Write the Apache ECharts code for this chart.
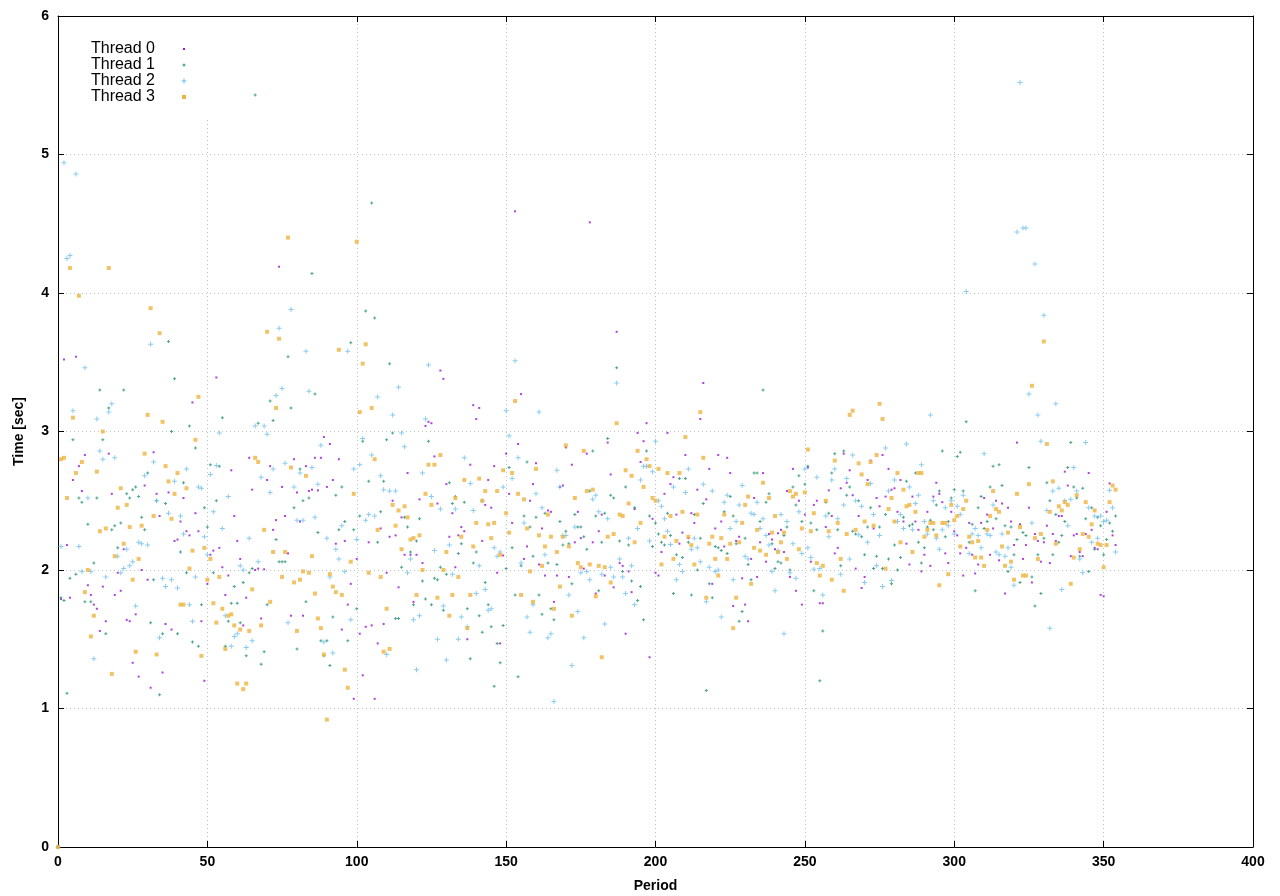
<!DOCTYPE html>
<html>
<head>
<meta charset="utf-8">
<script src="https://cdn.jsdelivr.net/npm/echarts@6/dist/echarts.min.js"></script>
<style>
html,body{margin:0;padding:0;background:#fff;}
#chart{width:1280px;height:896px;}
</style>
</head>
<body>
<div id="chart"></div>
<script>
const seriesNames = ['Thread 0', 'Thread 1', 'Thread 2', 'Thread 3'];
const xTicks = [0, 50, 100, 150, 200, 250, 300, 350, 400];
const yTicks = [0, 1, 2, 3, 4, 5, 6];

const thread0 = [0,1.79,3.52,2.18,1.80,2.65,3.54,2.75,2.57,2.83,
1.89,1.82,1.75,1.72,1.56,1.88,1.63,2.84,2.55,1.82,
1.98,1.85,2.15,1.64,1.63,1.33,1.68,1.23,2.00,2.61,
1.93,1.15,2.85,2.55,2.39,1.26,1.61,2.56,1.57,2.21,
2.22,2.35,2.52,2.28,2.25,3.21,2.41,2.28,1.63,1.20,
1.90,2.11,2.14,3.39,2.16,2.02,1.82,1.96,2.72,2.39,
2.21,2.08,1.60,1.80,2.81,2.58,2.00,2.01,1.65,2.005,
2.65,2.75,2.29,2.36,4.19,2.60,2.39,2.12,1.67,2.80,
2.56,2.35,1.67,2.75,2.57,2.58,2.81,2.575,2.81,2.96,
2.60,2.91,2.65,2.19,2.80,1.57,2.21,1.75,1.90,1.07,
2.08,1.54,1.24,1.59,2.20,1.60,1.07,1.47,2.30,1.61,
1.98,2.24,2.50,2.25,1.875,2.38,2.11,2.70,2.11,1.77,
2.11,2.51,2.05,3.04,3.07,3.06,2.82,2.48,3.44,3.38,
2.62,2.24,2.41,2.02,2.25,2.31,2.28,1.50,2.76,3.19,
3.09,3.17,2.21,2.47,2.65,2.45,2.75,1.98,1.47,2.105,
2.84,2.55,2.34,4.59,2.91,3.27,2.08,2.17,2.50,2.62,
2.77,2.04,2.30,1.96,2.43,2.42,1.77,1.96,2.60,2.61,
2.885,1.95,2.76,2.20,2.42,2.23,2.01,2.84,4.51,2.20,
1.83,2.28,2.40,1.96,2.92,2.69,1.875,3.72,2.05,2.03,
1.54,1.99,1.84,2.44,2.99,2.78,2.93,3.06,1.37,2.37,
1.98,1.96,2.13,2.55,2.99,2.62,2.67,2.40,2.19,2.27,
2.83,2.23,2.41,2.34,2.58,3.09,3.35,2.51,2.73,1.90,
2.30,2.83,2.35,2.17,2.81,2.70,1.74,2.21,2.24,1.94,
1.75,1.63,2.08,2.52,1.95,2.20,2.70,2.06,2.26,2.22,
2.15,2.265,2.29,2.13,2.57,1.95,2.73,1.85,2.50,1.75,
2.40,2.74,2.06,2.47,2.50,1.76,1.76,2.31,2.575,2.39,
2.12,2.16,2.59,2.84,2.63,2.72,2.54,2.01,2.39,1.87,
1.95,2.65,2.79,2.30,2.52,2.46,2.83,2.53,2.73,2.58,
2.59,2.42,2.65,2.35,2.19,2.04,2.53,2.35,2.29,1.99,
2.11,2.42,2.03,2.53,2.63,2.55,2.49,2.12,2.05,2.42,
2.28,2.25,2.12,1.96,2.16,2.34,2.11,1.975,2.04,2.34,
2.52,2.40,2.11,2.30,2.50,2.07,2.48,1.83,2.45,2.35,
2.18,2.92,2.33,2.08,2.18,2.45,1.91,2.26,2.21,2.06,
2.20,2.32,2.05,2.26,2.21,2.39,2.39,2.71,2.61,2.10,
2.25,2.26,2.13,2.10,2.26,2.70,2.29,2.16,2.15,1.82,
1.81,2.42,2.625,2.25,2.18];

const thread1 = [0,1.80,1.78,1.11,1.94,2.94,1.97,2.52,2.49,1.77,
2.33,1.77,2.05,2.52,3.30,2.94,1.54,3.17,2.29,2.32,
2.16,2.34,3.30,2.55,2.52,2.58,2.60,2.53,2.38,2.29,
2.70,1.62,1.93,2.50,1.10,1.54,2.48,3.65,3.00,3.38,
1.54,2.13,2.63,1.98,3.04,1.48,2.88,1.45,1.75,2.45,
2.31,2.76,1.98,2.50,2.75,3.10,1.45,1.63,1.76,1.88,
1.76,1.62,1.91,1.38,1.98,2.01,5.43,3.06,1.32,1.41,
1.75,3.22,3.08,2.22,2.06,2.06,2.06,3.54,3.17,2.45,
1.43,2.73,2.50,1.77,2.52,4.14,3.27,2.27,1.49,1.38,
1.49,1.31,1.66,2.54,2.29,2.60,2.35,1.49,3.64,2.29,
1.72,2.39,2.93,3.87,2.64,4.65,3.82,2.20,2.42,2.64,
2.94,3.49,2.99,1.65,1.65,2.02,2.38,2.31,2.13,1.75,
2.21,2.37,1.92,1.79,2.93,1.75,1.94,1.93,2.02,1.71,
1.97,2.63,2.48,2.53,2.12,2.19,2.49,1.72,1.36,2.05,
2.13,1.67,1.55,1.91,1.75,1.59,1.16,1.47,1.33,1.60,
2.01,2.74,2.16,1.82,1.23,2.03,2.39,2.78,2.31,2.10,
2.38,1.82,1.68,2.41,2.05,1.72,1.64,2.04,2.35,2.18,
2.28,2.19,1.90,2.40,2.31,2.31,2.24,2.15,2.57,2.86,
2.39,1.85,2.20,2.41,2.95,2.54,2.52,3.46,2.21,1.99,
2.60,2.18,1.92,2.45,1.78,1.88,1.64,2.86,2.39,2.17,
2.34,2.26,2.20,2.18,2.41,2.25,1.83,2.11,2.66,2.09,
2.66,2.20,1.82,2.40,2.00,2.23,2.48,1.13,1.90,1.80,
2.17,2.16,2.14,2.42,2.12,2.53,2.39,2.19,1.63,1.70,
2.23,2.04,1.93,2.70,2.70,2.35,3.30,2.49,2.55,2.19,
2.01,2.06,2.05,2.25,2.31,2.00,2.60,2.47,2.68,2.35,
2.62,2.75,2.34,1.85,2.29,1.20,1.56,2.49,2.41,2.70,
2.84,2.29,2.03,2.86,2.54,2.60,2.28,2.26,2.50,2.24,
2.11,2.31,2.45,2.01,2.10,2.31,2.01,2.40,2.08,1.90,
2.18,2.00,2.09,2.38,2.64,2.32,2.33,2.70,2.20,2.05,
2.16,2.31,2.36,2.29,2.47,2.57,2.86,2.24,2.35,2.52,
2.58,2.82,2.85,2.57,3.07,2.20,2.33,1.85,2.45,2.53,
2.30,2.35,2.60,2.75,2.37,2.76,2.61,2.32,1.99,2.31,
2.11,2.22,1.91,2.27,2.25,2.74,1.95,1.74,2.11,1.83,
2.23,2.63,2.50,2.11,2.40,2.20,2.25,2.35,2.74,2.92,
2.60,2.52,2.10,2.59,2.37,1.99,2.45,2.15,2.38,2.32,
2.11,2.22,2.34,2.28,2.39];

const thread2 = [0,2.17,4.94,4.25,4.27,3.15,4.86,2.17,1.99,3.46,
2.52,1.99,1.36,3.09,2.86,2.80,1.95,3.14,3.20,2.81,
2.10,1.98,2.01,2.15,2.03,2.06,1.74,2.20,2.19,2.68,
2.18,3.63,2.78,2.50,1.51,1.94,1.88,2.41,1.93,2.64,
1.87,2.39,2.26,2.73,1.75,1.63,1.95,2.60,2.59,2.24,
2.11,2.69,2.42,2.755,2.99,2.30,1.67,2.53,1.45,1.52,
1.54,2.03,2.00,1.44,2.23,1.49,3.04,2.06,2.67,3.04,
2.98,2.56,2.73,3.26,3.745,3.31,2.77,1.62,3.88,2.60,
2.36,2.70,2.36,3.58,3.29,2.74,2.38,2.62,2.90,1.48,
2.23,1.95,1.40,2.15,2.08,2.32,1.99,3.58,1.64,2.73,
2.22,2.76,2.95,2.36,2.40,2.83,2.39,3.25,2.68,2.58,
1.39,2.57,3.12,2.57,3.32,2.99,2.89,1.98,2.08,1.64,
1.28,1.67,2.70,3.09,3.48,2.53,2.14,1.50,2.44,1.74,
1.35,2.18,1.97,2.44,1.50,1.66,2.81,1.59,2.625,2.43,
1.83,2.03,2.50,1.86,1.71,1.72,2.16,2.10,2.13,2.60,
3.15,2.97,2.66,3.51,2.81,2.05,2.34,1.66,1.55,1.75,
2.55,3.14,2.45,2.11,1.51,1.54,1.05,2.72,2.60,2.25,
2.25,1.82,1.31,2.31,1.70,1.98,1.51,1.99,1.93,2.51,
2.54,2.42,1.97,1.61,2.37,2.02,1.95,3.35,2.08,1.95,
1.83,2.23,2.03,1.75,2.30,2.65,2.75,2.75,2.21,2.71,
2.93,2.50,2.46,2.37,2.28,2.185,2.60,1.93,2.04,1.99,
2.56,2.73,2.15,2.23,2.16,2.06,2.62,1.77,2.02,2.57,
1.99,2.00,1.66,2.49,2.54,2.30,1.93,2.35,2.47,2.61,
2.10,2.08,2.41,2.40,2.49,2.30,2.37,2.25,2.18,1.99,
1.85,2.14,2.40,1.54,2.35,1.98,2.19,1.94,2.42,2.12,
2.73,2.16,2.09,2.005,2.67,2.01,1.82,2.39,2.24,2.65,
2.73,2.37,1.97,2.47,2.66,2.08,2.83,2.50,2.255,2.46,
1.91,2.20,2.625,2.40,2.03,2.25,1.88,2.88,2.57,1.925,
2.65,2.35,2.40,2.30,2.91,2.60,2.29,2.48,2.54,2.76,
2.35,2.26,3.12,2.50,2.23,2.15,2.29,2.45,2.32,2.50,
2.26,2.46,2.40,2.54,4.01,2.12,2.26,2.30,2.25,2.16,
2.84,2.26,2.25,2.47,2.13,2.11,2.26,2.10,2.16,2.02,
1.89,4.44,5.52,4.47,4.47,3.27,2.34,4.21,3.12,2.93,
3.84,2.43,1.58,2.57,3.20,2.59,1.86,2.50,2.32,2.51,
2.74,2.57,2.08,1.98,2.92,2.45,2.20,2.39,2.23,2.39,
2.35,2.36,2.575,2.45,2.13];

const thread3 = [0,2.80,2.81,2.52,4.18,3.10,2.70,3.98,2.78,1.84,
2.00,1.52,1.67,2.71,2.28,3.00,2.30,4.18,1.25,2.10,
2.45,2.59,2.19,2.47,2.31,1.93,1.41,2.08,2.32,2.84,
3.12,3.89,2.39,1.39,3.71,3.07,2.75,2.64,2.37,2.55,
2.70,1.75,1.75,2.59,2.01,2.14,2.94,3.25,1.38,2.16,
1.93,2.08,1.76,1.62,1.95,1.72,1.43,1.67,1.68,1.60,
1.18,1.57,1.14,1.18,1.56,1.86,2.81,2.78,1.60,2.29,
3.72,1.77,2.13,3.17,3.67,1.95,2.13,4.40,2.74,1.91,
1.56,1.93,1.99,2.68,1.98,2.10,1.83,1.65,1.58,1.39,
0.92,1.97,1.88,1.84,3.59,1.82,1.28,1.15,2.06,2.55,
4.37,3.14,3.49,3.63,1.98,3.17,2.80,2.29,1.95,1.41,
1.72,1.43,2.47,2.32,2.43,2.15,2.46,2.38,2.22,2.23,
1.82,2.25,2.00,2.55,2.76,2.47,2.76,1.80,2.83,2.00,
2.13,1.67,1.82,2.52,1.95,2.24,2.65,1.58,1.82,2.17,
2.34,2.66,2.50,2.57,2.33,2.23,2.34,2.57,2.11,2.72,
2.41,2.27,2.70,3.22,2.55,1.82,2.51,2.30,1.99,1.77,
2.73,2.25,2.03,2.17,2.40,2.24,1.72,2.13,1.88,2.24,
2.90,2.17,1.67,2.52,2.05,2.02,2.86,2.57,2.04,2.58,
1.81,2.03,1.37,2.02,2.24,1.91,2.26,3.06,2.40,2.39,
2.72,2.48,2.68,2.20,2.86,2.34,2.60,2.80,2.75,2.52,
2.50,2.73,2.04,2.24,2.70,2.39,2.08,2.21,2.70,2.42,
2.96,2.24,2.18,2.04,2.40,3.14,2.81,1.80,2.19,2.24,
2.08,1.96,2.23,2.40,2.08,2.19,1.58,1.80,2.20,2.34,
2.47,2.53,1.90,2.16,2.29,2.14,2.63,2.11,2.52,2.27,
2.39,2.13,2.20,2.27,2.08,2.57,2.53,2.55,2.15,2.30,
2.56,2.87,2.28,2.41,2.05,1.96,2.03,2.50,2.28,1.93,
2.79,2.34,2.08,1.85,2.26,3.12,3.15,2.29,2.77,2.69,
2.35,2.62,2.78,2.32,2.83,3.20,3.09,2.01,2.44,2.52,
2.35,2.70,2.20,2.58,2.46,2.47,2.13,2.42,2.70,2.70,
2.24,2.29,2.34,2.34,2.25,1.89,2.34,2.34,1.97,2.47,
2.36,2.39,2.17,2.44,2.50,2.24,2.20,2.09,2.21,2.09,
2.03,2.29,2.39,2.57,2.44,2.42,2.17,2.03,2.27,2.06,
1.93,2.55,2.31,1.96,1.96,2.62,3.33,2.23,2.08,2.26,
3.65,2.91,2.42,2.64,2.19,2.46,2.43,2.49,2.47,1.90,
2.09,2.54,2.15,2.26,2.49,2.24,2.33,2.43,2.19,2.18,
2.02,2.18,2.49,2.61,2.58];

const threadData = [thread0, thread1, thread2, thread3];
const symbols = ['rect', 'path://M1,0H2V1H3V2H2V3H1V2H0V1H1Z', 'path://M2,0H3V2H5V3H3V5H2V3H0V2H2Z', 'rect'];
const symbolSizes = [2, 3, 5, 4];
const pointColors = ['#9a10d8', '#1e8f70', '#6dbfee', '#efb440'];

const chart = echarts.init(document.getElementById('chart'), null, {renderer: 'canvas'});
const FONT = 'Liberation Sans, Arial, sans-serif';

const gridLine = {show: true, lineStyle: {color: '#b8c6c6', type: [1, 3], width: 1}};

const series = threadData.map((arr, k) => ({
  name: seriesNames[k],
  type: 'scatter',
  xAxisIndex: 0,
  yAxisIndex: 0,
  symbol: symbols[k],
  symbolSize: symbolSizes[k],
  itemStyle: {color: pointColors[k]},
  emphasis: {disabled: true},
  animation: false,
  z: 3 + k,
  data: arr.map((v, i) => [i, v])
}));

// key box: opaque background, right-aligned names, sample marks to the right
const keyX = 184, keyY0 = 49, keyStep = 16;
const legendGraphics = [{
  type: 'rect', shape: {x: 59, y: 17, width: 152, height: 101},
  style: {fill: '#ffffff'}, z: 1, silent: true
}];
seriesNames.forEach((name, k) => {
  legendGraphics.push({
    type: 'text', x: 155, y: keyY0 + k * keyStep, z: 10, silent: true,
    style: {text: name, font: '16px ' + FONT, fill: '#000', align: 'right', verticalAlign: 'middle'}
  });
});
const cy = k => keyY0 + k * keyStep;
legendGraphics.push(
  {type: 'rect', z: 10, silent: true, shape: {x: keyX - 1, y: cy(0) - 1, width: 2, height: 2}, style: {fill: pointColors[0]}},
  {type: 'rect', z: 10, silent: true, shape: {x: keyX - 1.5, y: cy(1) - 0.5, width: 3, height: 1}, style: {fill: pointColors[1]}},
  {type: 'rect', z: 10, silent: true, shape: {x: keyX - 0.5, y: cy(1) - 1.5, width: 1, height: 3}, style: {fill: pointColors[1]}},
  {type: 'rect', z: 10, silent: true, shape: {x: keyX - 2.5, y: cy(2) - 0.5, width: 5, height: 1}, style: {fill: pointColors[2]}},
  {type: 'rect', z: 10, silent: true, shape: {x: keyX - 0.5, y: cy(2) - 2.5, width: 1, height: 5}, style: {fill: pointColors[2]}},
  {type: 'rect', z: 10, silent: true, shape: {x: keyX - 2, y: cy(3) - 2, width: 4, height: 4}, style: {fill: pointColors[3]}}
);

const option = {
  backgroundColor: '#ffffff',
  animation: false,
  grid: {left: 58, right: 27, top: 16, bottom: 49, containLabel: false, outerBoundsMode: 'none'},
  xAxis: [{
    type: 'value', min: 0, max: 400, interval: 50, position: 'bottom',
    name: 'Period', nameLocation: 'middle', nameGap: 32,
    nameTextStyle: {fontFamily: FONT, fontWeight: 'bold', fontSize: 14, color: '#000'},
    axisLine: {show: true, onZero: false, lineStyle: {color: '#000', width: 1}},
    axisTick: {show: true, inside: true, length: 6, lineStyle: {color: '#000'}},
    axisLabel: {show: true, margin: 8, fontFamily: FONT, fontWeight: 'bold', fontSize: 14, color: '#000',
      formatter: v => xTicks.includes(v) ? String(v) : ''},
    splitLine: gridLine
  }, {
    type: 'value', min: 0, max: 400, interval: 50, position: 'top',
    axisLine: {show: true, onZero: false, lineStyle: {color: '#000', width: 1}},
    axisTick: {show: true, inside: true, length: 6, lineStyle: {color: '#000'}},
    axisLabel: {show: false}, splitLine: {show: false}
  }],
  yAxis: [{
    type: 'value', min: 0, max: 6, interval: 1, position: 'left',
    name: 'Time [sec]', nameLocation: 'middle', nameGap: 32, nameRotate: 90,
    nameTextStyle: {fontFamily: FONT, fontWeight: 'bold', fontSize: 14, color: '#000'},
    axisLine: {show: true, onZero: false, lineStyle: {color: '#000', width: 1}},
    axisTick: {show: true, inside: true, length: 6, lineStyle: {color: '#000'}},
    axisLabel: {show: true, margin: 9, fontFamily: FONT, fontWeight: 'bold', fontSize: 14, color: '#000',
      formatter: v => yTicks.includes(v) ? String(v) : ''},
    splitLine: gridLine
  }, {
    type: 'value', min: 0, max: 6, interval: 1, position: 'right',
    axisLine: {show: true, onZero: false, lineStyle: {color: '#000', width: 1}},
    axisTick: {show: true, inside: true, length: 6, lineStyle: {color: '#000'}},
    axisLabel: {show: false}, splitLine: {show: false}
  }],
  legend: {show: false},
  graphic: legendGraphics,
  series: series
};
chart.setOption(option);
</script>
</body>
</html>
